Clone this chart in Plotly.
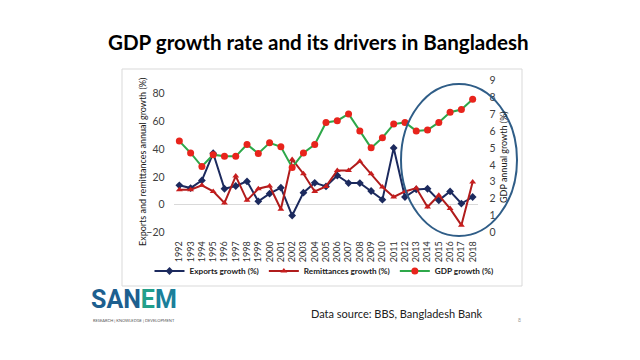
import plotly.graph_objects as go

years = list(range(1992, 2019))
year_labels = [str(y) for y in years]

exports = [14, 12, 17.5, 37, 11.5, 13.5, 16.8, 2.5, 8, 12.3, -7.7, 8.7, 15.8,
           13.2, 21, 15.6, 15.6, 9.9, 3.7, 40.8, 5.6, 11, 11.5, 3.2, 9.6, 0.9, 5.6]
remittances = [10.8, 10.8, 14, 9.6, 1.3, 20.6, 3.2, 11.5, 13.5, -3.2, 32.5, 22.3, 9.6,
               13.2, 24.6, 24.6, 31.3, 22.3, 12.7, 5.6, 9.6, 12, -1.6, 6.8, -2.7, -14.6, 16.3]
gdp = [5.4, 4.7, 3.9, 4.6, 4.5, 4.5, 5.2, 4.67, 5.3, 5.06, 3.85, 4.7, 5.2,
       6.5, 6.6, 7.0, 6.0, 5.0, 5.6, 6.4, 6.5, 6.0, 6.05, 6.5, 7.1, 7.26, 7.86]

left_ticks = [-20, 0, 20, 40, 60, 80]
right_ticks = list(range(0, 10))

FONT = "Lato, 'Open Sans', sans-serif"
W, H = 640, 360

fig = go.Figure()
fig.add_trace(go.Scatter(
    x=years, y=exports, name="Exports growth (%)", mode="lines+markers",
    line=dict(color="#1c2a5e", width=2),
    marker=dict(symbol="diamond", size=6, color="#1c2a5e")))
fig.add_trace(go.Scatter(
    x=years, y=remittances, name="Remittances growth (%)", mode="lines+markers",
    line=dict(color="#b01c1c", width=2),
    marker=dict(symbol="triangle-up", size=6, color="#c81e1e")))
fig.add_trace(go.Scatter(
    x=years, y=gdp, name="GDP growth (%)", mode="lines+markers", yaxis="y2",
    line=dict(color="#2ea84a", width=2),
    marker=dict(symbol="circle", size=7, color="#e8241c")))

px = lambda v: v / W
py = lambda v: 1 - v / H

fig.update_layout(
    width=W, height=H, autosize=False,
    margin=dict(l=0, r=0, t=0, b=0),
    paper_bgcolor="white", plot_bgcolor="rgba(0,0,0,0)",
    font=dict(family=FONT, color="#404040", size=10),
    showlegend=True,
    legend=dict(orientation="h", x=px(324), xanchor="center", y=py(271), yanchor="middle",
                font=dict(size=8.2, color="#202020", family=FONT, weight="bold"), itemwidth=30,
                bgcolor="rgba(0,0,0,0)", traceorder="normal"),
    xaxis=dict(domain=[px(173.7), px(478.3)], range=[1991.5, 2018.5],
               tickmode="array", tickvals=years, ticktext=year_labels, tickangle=-90,
               showgrid=False, zeroline=False, showline=False, automargin=False,
               ticks="outside", ticklen=4, tickcolor="rgba(0,0,0,0)",
               tickfont=dict(size=9, color="#303030")),
    yaxis=dict(domain=[py(232.7), py(80)], range=[-20, 89.5],
               tickmode="array", tickvals=left_ticks,
               showgrid=False, zeroline=True, zerolinecolor="#d9d9d9", zerolinewidth=1,
               showline=False, automargin=False,
               ticks="outside", ticklen=6, tickcolor="rgba(0,0,0,0)",
               tickfont=dict(size=10.5, color="#404040")),
    yaxis2=dict(overlaying="y", side="right", range=[0, 9],
                tickmode="array", tickvals=right_ticks,
                showgrid=False, zeroline=False, showline=False, automargin=False,
                ticks="outside", ticklen=8, tickcolor="rgba(0,0,0,0)",
                tickfont=dict(size=10.5, color="#404040")),
    shapes=[
        dict(type="rect", xref="paper", yref="paper", x0=px(122), x1=px(522),
             y0=py(286), y1=py(69), line=dict(color="#d9d9d9", width=1)),
        dict(type="circle", xref="paper", yref="paper", x0=px(401), x1=px(517),
             y0=py(236), y1=py(84), line=dict(color="#2f5d87", width=2)),
    ],
    annotations=[
        dict(text="<b>GDP growth rate and its drivers in Bangladesh</b>", x=px(318), y=py(42),
             xref="paper", yref="paper", showarrow=False, xanchor="center", yanchor="middle",
             font=dict(size=20.6, color="#000000", family=FONT)),
        dict(text="Exports and remittances annual growth (%)", x=px(143), y=py(162),
             xref="paper", yref="paper", showarrow=False, textangle=-90,
             xanchor="center", yanchor="middle",
             font=dict(size=9, color="#202020", family=FONT)),
        dict(text="GDP annual growth (%)", x=px(503), y=py(157),
             xref="paper", yref="paper", showarrow=False, textangle=-90,
             xanchor="center", yanchor="middle",
             font=dict(size=9, color="#202020", family=FONT)),
        dict(text="Data source: BBS, Bangladesh Bank", x=px(397), y=py(313),
             xref="paper", yref="paper", showarrow=False, xanchor="center", yanchor="middle",
             font=dict(size=11, color="#202020", family=FONT)),
        dict(text="<b><span style='color:#1d5f8f'>SAN</span><span style='color:#22a08a'>E</span><span style='color:#1b7f9a'>M</span></b>",
             x=px(134), y=py(299), xref="paper", yref="paper", showarrow=False,
             xanchor="center", yanchor="middle",
             font=dict(size=25, family="'Liberation Sans Narrow', 'Roboto', sans-serif")),
        dict(text="RESEARCH | KNOWLEDGE | DEVELOPMENT", x=px(134), y=py(320),
             xref="paper", yref="paper", showarrow=False, xanchor="center", yanchor="middle",
             font=dict(size=4, color="#555555", family=FONT)),
        dict(text="8", x=px(519), y=py(320), xref="paper", yref="paper", showarrow=False,
             xanchor="center", yanchor="middle", font=dict(size=5, color="#999999", family=FONT)),
    ],
)

fig.write_html("out.html", config={"displayModeBar": False},
               post_script="document.body.style.margin='0';")
